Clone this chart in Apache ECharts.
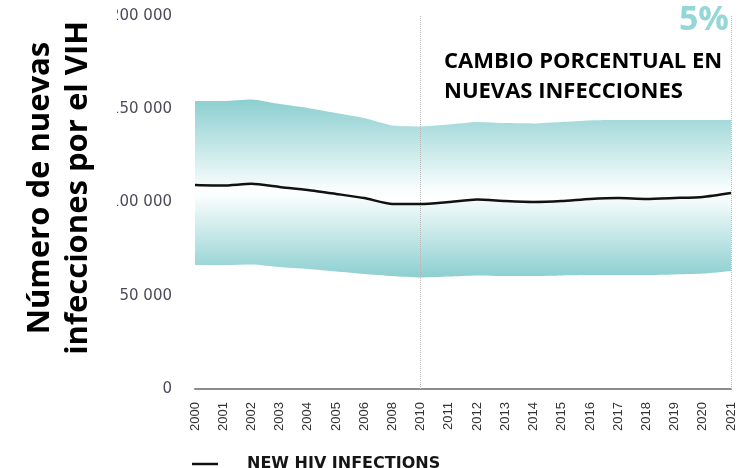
<!DOCTYPE html>
<html lang="es">
<head>
<meta charset="utf-8">
<script src="https://cdn.jsdelivr.net/npm/echarts@6/dist/echarts.min.js"></script>
<style>
  html, body { margin: 0; padding: 0; background: #fff; }
  #chart { width: 743px; height: 468px; }
</style>
</head>
<body>
<div id="chart"></div>
<script>
// years as labelled on the axis (2007 and 2009 are not shown in the source)
const years = ['2000','2001','2002','2003','2004','2005','2006','2008','2010','2011',
               '2012','2013','2014','2015','2016','2017','2018','2019','2020','2021'];
const estimate = [109400,109100,110000,108300,106700,104600,102400,99200,99200,100300,
                  101600,100800,100300,100800,101900,102400,101900,102400,103000,105100];
const lowerBound = [66500,66500,66800,65400,64300,63000,61700,60600,59800,60300,
                    60900,60600,60600,60900,61100,61100,61100,61400,61900,63300];
const upperBound = [154400,154400,155200,152800,150700,148000,145300,141300,140800,141800,
                    143200,142600,142400,143200,144000,144200,144200,144200,144200,144200];
const yTicks = [0, 50000, 100000, 150000, 200000];

const teal = '#8ccfd0';
const lowerPart = estimate.map((v, i) => v - lowerBound[i]);
const upperPart = upperBound.map((v, i) => v - estimate[i]);

function fmt(v) {
  return String(v).replace(/\B(?=(\d{3})+(?!\d))/g, ' ');
}

let chart = echarts.init(document.getElementById('chart'));
chart.setOption({
  animation: false,
  grid: { left: 195, right: 12, top: 16, bottom: 79 },
  xAxis: {
    type: 'category',
    data: years,
    boundaryGap: false,
    offset: 5,
    axisLine: { lineStyle: { color: '#8c8c8c', width: 2 } },
    axisTick: { show: false },
    axisLabel: {
      rotate: 90, margin: 8, interval: 0,
      fontFamily: 'Liberation Sans', fontSize: 13, color: '#333'
    },
    splitLine: { show: false }
  },
  yAxis: {
    type: 'value',
    min: yTicks[0], max: yTicks[yTicks.length - 1], interval: 50000,
    axisLine: { show: false },
    axisTick: { show: false },
    splitLine: { show: false },
    axisLabel: {
      margin: 23, formatter: fmt,
      fontFamily: 'DejaVu Sans', fontSize: 15, color: '#4b4b58'
    }
  },
  legend: {
    data: ['NEW HIV INFECTIONS'],
    left: 187, top: 451,
    icon: 'rect', itemWidth: 26, itemHeight: 2.5,
    textStyle: {
      fontFamily: 'DejaVu Sans', fontWeight: 'bold', fontSize: 16,
      color: '#151515', padding: [0, 0, 0, 24]
    }
  },
  series: [
    {
      name: 'base', type: 'line', stack: 'band', data: lowerBound,
      symbol: 'none', smooth: 0.2, lineStyle: { width: 0, opacity: 0 },
      silent: true
    },
    {
      name: 'low', type: 'line', stack: 'band', data: lowerPart,
      symbol: 'none', smooth: 0.2, lineStyle: { width: 0, opacity: 0 },
      silent: true,
      areaStyle: {
        opacity: 1,
        color: new echarts.graphic.LinearGradient(0, 0, 0, 1, [
          { offset: 0, color: '#ffffff' },
          { offset: 0.12, color: '#fbfefe' },
          { offset: 1, color: teal }
        ])
      }
    },
    {
      name: 'high', type: 'line', stack: 'band', data: upperPart,
      symbol: 'none', smooth: 0.2, lineStyle: { width: 0, opacity: 0 },
      silent: true,
      areaStyle: {
        opacity: 1,
        color: new echarts.graphic.LinearGradient(0, 0, 0, 1, [
          { offset: 0, color: teal },
          { offset: 0.88, color: '#fbfefe' },
          { offset: 1, color: '#ffffff' }
        ])
      }
    },
    {
      name: 'NEW HIV INFECTIONS', type: 'line', data: estimate,
      symbol: 'none', smooth: 0.2, color: '#111',
      lineStyle: { color: '#111', width: 2.5 },
      z: 5,
      markLine: {
        silent: true, symbol: 'none',
        label: { show: false },
        lineStyle: { type: 'dotted', color: '#b5b5b5', width: 1 },
        data: [{ xAxis: '2010' }, { xAxis: '2021' }]
      }
    }
  ],
  graphic: [
    {
      // the title box hides the first digit of the upper tick labels, as in the source
      type: 'rect', z: 100,
      shape: { x: 0, y: 0, width: 117, height: 330 },
      style: { fill: '#fff' }
    },
    {
      type: 'text', z: 101, x: 59, y: 188, rotation: Math.PI / 2,
      style: {
        text: 'Número de nuevas\ninfecciones por el VIH',
        font: 'bold 31px "Open Sans"', lineHeight: 38,
        fill: '#000', align: 'center', verticalAlign: 'middle'
      }
    },
    {
      type: 'text', z: 101, x: 729, y: 3,
      style: {
        text: '5%', font: 'bold 34px "Open Sans"', fill: '#95d6d6',
        align: 'right', verticalAlign: 'top'
      }
    },
    {
      type: 'text', z: 101, x: 444, y: 47,
      style: {
        text: 'CAMBIO PORCENTUAL EN\nNUEVAS INFECCIONES',
        font: 'bold 22px "Open Sans"', lineHeight: 30, fill: '#000',
        align: 'left', verticalAlign: 'top'
      }
    }
  ]
});
</script>
</body>
</html>
